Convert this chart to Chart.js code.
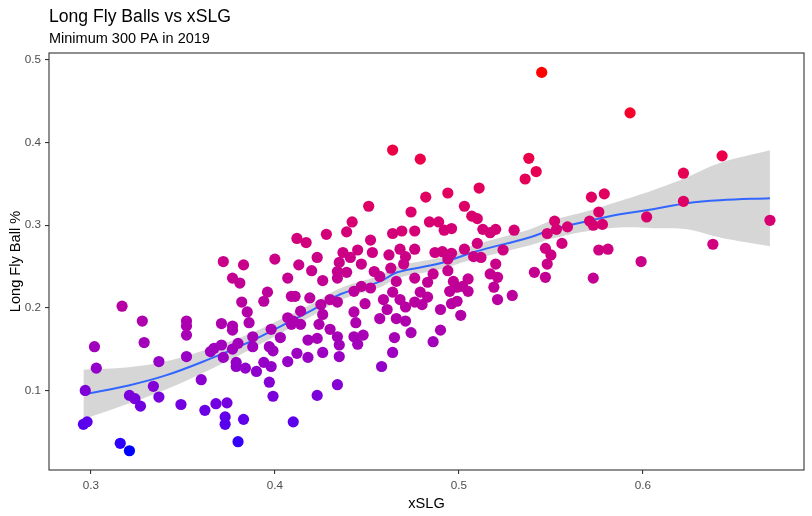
<!DOCTYPE html>
<html>
<head>
<meta charset="utf-8">
<script src="https://cdn.jsdelivr.net/npm/chart.js@4"></script>
<style>
  body { margin: 0; background: #fff; }
  #wrap { width: 812px; height: 516px; }
</style>
</head>
<body>
<div id="wrap"><canvas id="flyChart"></canvas></div>
<script>
// xSLG and Long Fly Ball % per hitter (min 300 PA, 2019)
let xslg = [
  0.296, 0.298, 0.297, 0.302, 0.303, 0.316, 0.321, 0.317, 0.321, 0.324, 0.327, 0.328, 0.329, 0.334, 0.337, 0.337,
  0.349, 0.352, 0.352, 0.352, 0.352, 0.360, 0.362, 0.365, 0.367, 0.368, 0.371, 0.371, 0.372, 0.372, 0.373, 0.373,
  0.374, 0.377, 0.377, 0.377, 0.377, 0.379, 0.379, 0.380, 0.380, 0.381, 0.382, 0.383, 0.383, 0.384, 0.385, 0.386,
  0.388, 0.388, 0.390, 0.394, 0.394, 0.396, 0.397, 0.398, 0.398, 0.397, 0.399, 0.399, 0.400, 0.403, 0.407, 0.407,
  0.407, 0.409, 0.409, 0.410, 0.410, 0.411, 0.412, 0.412, 0.413, 0.414, 0.414, 0.417, 0.418, 0.418, 0.419, 0.420,
  0.423, 0.423, 0.423, 0.424, 0.425, 0.426, 0.426, 0.426, 0.428, 0.430, 0.430, 0.434, 0.434, 0.434, 0.434, 0.434,
  0.435, 0.435, 0.435, 0.437, 0.439, 0.439, 0.441, 0.442, 0.443, 0.443, 0.443, 0.444, 0.445, 0.445, 0.447, 0.447,
  0.448, 0.449, 0.451, 0.452, 0.452, 0.453, 0.454, 0.457, 0.457, 0.458, 0.459, 0.461, 0.463, 0.462, 0.464, 0.464,
  0.464, 0.465, 0.464, 0.479, 0.482, 0.494, 0.503, 0.474, 0.507, 0.510, 0.511, 0.484, 0.489, 0.492, 0.496, 0.513,
  0.520, 0.530, 0.469, 0.476, 0.517, 0.536, 0.538, 0.468, 0.476, 0.471, 0.487, 0.491, 0.496, 0.494, 0.503, 0.510,
  0.508, 0.512, 0.524, 0.470, 0.466, 0.476, 0.486, 0.483, 0.494, 0.497, 0.505, 0.502, 0.505, 0.495, 0.499, 0.517,
  0.520, 0.521, 0.519, 0.521, 0.529, 0.479, 0.483, 0.468, 0.471, 0.476, 0.480, 0.490, 0.496, 0.499, 0.501, 0.471,
  0.466, 0.474, 0.490, 0.486, 0.545, 0.593, 0.542, 0.643, 0.622, 0.622, 0.572, 0.579, 0.576, 0.571, 0.573, 0.578,
  0.602, 0.669, 0.552, 0.553, 0.559, 0.548, 0.547, 0.550, 0.548, 0.556, 0.576, 0.581, 0.599, 0.638, 0.541, 0.547,
  0.573
];
let longFly = [
  0.059, 0.062, 0.100, 0.153, 0.127, 0.036, 0.027, 0.202, 0.094, 0.090, 0.081, 0.184, 0.158, 0.105, 0.092, 0.135,
  0.083, 0.184, 0.178, 0.167, 0.141, 0.113, 0.076, 0.147, 0.151, 0.084, 0.181, 0.155, 0.256, 0.140, 0.068, 0.059,
  0.085, 0.236, 0.178, 0.173, 0.150, 0.134, 0.129, 0.157, 0.038, 0.230, 0.207, 0.252, 0.065, 0.127, 0.195, 0.182,
  0.165, 0.153, 0.123, 0.208, 0.134, 0.219, 0.153, 0.174, 0.129, 0.110, 0.148, 0.093, 0.259, 0.164, 0.188, 0.135,
  0.236, 0.214, 0.180, 0.184, 0.062, 0.214, 0.284, 0.145, 0.252, 0.196, 0.180, 0.279, 0.161, 0.140, 0.212, 0.245,
  0.261, 0.163, 0.094, 0.180, 0.204, 0.233, 0.192, 0.146, 0.289, 0.210, 0.174, 0.244, 0.236, 0.207, 0.165, 0.107,
  0.255, 0.155, 0.141, 0.267, 0.292, 0.243, 0.261, 0.304, 0.220, 0.195, 0.165, 0.182, 0.156, 0.270, 0.253, 0.226,
  0.167, 0.205, 0.323, 0.282, 0.224, 0.267, 0.244, 0.238, 0.187, 0.129, 0.210, 0.198, 0.248, 0.264, 0.391, 0.290,
  0.219, 0.164, 0.146, 0.380, 0.334, 0.339, 0.323, 0.316, 0.311, 0.308, 0.345, 0.304, 0.304, 0.294, 0.296, 0.295,
  0.295, 0.294, 0.293, 0.293, 0.291, 0.356, 0.381, 0.271, 0.271, 0.262, 0.267, 0.268, 0.266, 0.259, 0.271, 0.278,
  0.262, 0.261, 0.270, 0.253, 0.232, 0.236, 0.241, 0.231, 0.245, 0.232, 0.235, 0.226, 0.220, 0.220, 0.225, 0.241,
  0.253, 0.237, 0.225, 0.210, 0.215, 0.219, 0.213, 0.210, 0.201, 0.207, 0.204, 0.198, 0.205, 0.208, 0.191, 0.184,
  0.187, 0.170, 0.173, 0.159, 0.485, 0.436, 0.365, 0.384, 0.363, 0.329, 0.334, 0.338, 0.316, 0.305, 0.300, 0.301,
  0.310, 0.306, 0.305, 0.295, 0.298, 0.290, 0.272, 0.264, 0.253, 0.278, 0.270, 0.271, 0.256, 0.277, 0.243, 0.237,
  0.236
];

// loess fit and its confidence band
let smoothX = [0.296, 0.3206, 0.3407, 0.3640, 0.3857, 0.4031, 0.4210, 0.4356, 0.4573, 0.4665,
               0.4899, 0.5078, 0.5387, 0.5512, 0.5696, 0.5875, 0.6054, 0.6239, 0.6418, 0.669];
let smoothY = [0.0952, 0.1061, 0.1182, 0.1376, 0.1582, 0.1776, 0.1982, 0.2164, 0.2321, 0.2430,
               0.2539, 0.2673, 0.2855, 0.2952, 0.3048, 0.3133, 0.3194, 0.3267, 0.3303, 0.3327];
let bandLow  = [0.0652, 0.0841, 0.1012, 0.1246, 0.1485, 0.1691, 0.1909, 0.2091, 0.2248, 0.2357,
                0.2466, 0.2588, 0.2758, 0.2842, 0.2928, 0.2973, 0.2964, 0.2952, 0.2853, 0.2747];
let bandHigh = [0.1252, 0.1281, 0.1352, 0.1506, 0.1679, 0.1861, 0.2055, 0.2237, 0.2394, 0.2503,
                0.2612, 0.2758, 0.2952, 0.3062, 0.3168, 0.3293, 0.3424, 0.3582, 0.3753, 0.3907];

let xTicks = [0.3, 0.4, 0.5, 0.6];
let yTicks = [0.1, 0.2, 0.3, 0.4, 0.5];

// blue -> red gradient interpolated in Lab, like ggplot's scale_colour_gradient
function toLin(c) { c /= 255; return c <= 0.04045 ? c / 12.92 : Math.pow((c + 0.055) / 1.055, 2.4); }
function toLab(rgb) {
  let r = toLin(rgb[0]), g = toLin(rgb[1]), b = toLin(rgb[2]);
  let X = (0.4124 * r + 0.3576 * g + 0.1805 * b) / 0.95047;
  let Y = 0.2126 * r + 0.7152 * g + 0.0722 * b;
  let Z = (0.0193 * r + 0.1192 * g + 0.9505 * b) / 1.08883;
  let f = t => t > 0.008856 ? Math.cbrt(t) : 7.787 * t + 16 / 116;
  return [116 * f(Y) - 16, 500 * (f(X) - f(Y)), 200 * (f(Y) - f(Z))];
}
function fromLab(lab) {
  let fy = (lab[0] + 16) / 116, fx = fy + lab[1] / 500, fz = fy - lab[2] / 200;
  let inv = t => t * t * t > 0.008856 ? t * t * t : (t - 16 / 116) / 7.787;
  let X = inv(fx) * 0.95047, Y = inv(fy), Z = inv(fz) * 1.08883;
  let lin = [
    3.2406 * X - 1.5372 * Y - 0.4986 * Z,
    -0.9689 * X + 1.8758 * Y + 0.0415 * Z,
    0.0557 * X - 0.2040 * Y + 1.0570 * Z
  ];
  let out = lin.map(c => {
    c = Math.min(1, Math.max(0, c));
    c = c <= 0.0031308 ? 12.92 * c : 1.055 * Math.pow(c, 1 / 2.4) - 0.055;
    return Math.round(c * 255);
  });
  return "rgb(" + out.join(",") + ")";
}
let labLow = toLab([0, 0, 255]);
let labHigh = toLab([255, 0, 0]);
let yMin = Math.min(...longFly), yMax = Math.max(...longFly);
function pointColor(v) {
  let t = (v - yMin) / (yMax - yMin);
  return fromLab(labLow.map((c, i) => c + (labHigh[i] - c) * t));
}

function pairs(xs, ys) { return xs.map((x, i) => ({ x: x, y: ys[i] })); }

// ggplot-like panel box and title/subtitle
const panelPlugin = {
  id: "panel",
  afterDraw(chart) {
    let ctx = chart.ctx, a = chart.chartArea;
    ctx.save();
    ctx.strokeStyle = "#333333";
    ctx.lineWidth = 1.1;
    ctx.strokeRect(a.left, a.top, a.right - a.left, a.bottom - a.top);
    ctx.fillStyle = "#000";
    ctx.textBaseline = "alphabetic";
    ctx.font = '17.6px "Liberation Sans", Arial, sans-serif';
    ctx.fillText("Long Fly Balls vs xSLG", a.left, 22);
    ctx.font = '14.5px "Liberation Sans", Arial, sans-serif';
    ctx.fillText("Minimum 300 PA in 2019", a.left, 43);
    ctx.restore();
  }
};

const tickFont = { family: '"Liberation Sans", Arial, sans-serif', size: 11.7 };
const titleFont = { family: '"Liberation Sans", Arial, sans-serif', size: 14.6 };

new Chart(document.getElementById("flyChart").getContext("2d"), {
  type: "scatter",
  data: {
    datasets: [
      {
        label: "players",
        data: pairs(xslg, longFly),
        pointRadius: 5.6,
        pointHoverRadius: 5.6,
        pointBorderWidth: 0,
        pointBackgroundColor: c => pointColor(c.raw.y),
        order: 0
      },
      {
        label: "loess",
        data: pairs(smoothX, smoothY),
        showLine: true,
        borderColor: "#3366FF",
        borderWidth: 2,
        pointRadius: 0,
        tension: 0.4,
        order: 1
      },
      {
        label: "ci high",
        data: pairs(smoothX, bandHigh),
        showLine: true,
        borderColor: "transparent",
        borderWidth: 0,
        pointRadius: 0,
        tension: 0.4,
        fill: "+1",
        backgroundColor: "rgba(153,153,153,0.4)",
        order: 2
      },
      {
        label: "ci low",
        data: pairs(smoothX, bandLow),
        showLine: true,
        borderColor: "transparent",
        borderWidth: 0,
        pointRadius: 0,
        tension: 0.4,
        order: 3
      }
    ]
  },
  options: {
    responsive: true,
    maintainAspectRatio: false,
    animation: false,
    layout: { padding: { top: 53, left: 0, right: 8, bottom: 0 } },
    plugins: {
      legend: { display: false },
      tooltip: { enabled: false }
    },
    scales: {
      x: {
        type: "linear",
        min: 0.2773,
        max: 0.6875,
        afterBuildTicks: s => { s.ticks = xTicks.map(v => ({ value: v })); },
        afterFit: s => { s.height = 46; },
        grid: { drawOnChartArea: false, drawTicks: true, tickLength: 4, color: "#333333", lineWidth: 1.1 },
        border: { display: false },
        ticks: { color: "#4D4D4D", font: tickFont, padding: 5, maxRotation: 0, callback: v => v.toFixed(1) },
        title: { display: true, text: "xSLG", color: "#000", font: titleFont, padding: { top: 0, bottom: 3 } }
      },
      y: {
        type: "linear",
        min: 0.0037,
        max: 0.5085,
        afterBuildTicks: s => { s.ticks = yTicks.map(v => ({ value: v })); },
        afterFit: s => { s.width = 49; },
        grid: { drawOnChartArea: false, drawTicks: true, tickLength: 4, color: "#333333", lineWidth: 1.1 },
        border: { display: false },
        ticks: { color: "#4D4D4D", font: tickFont, padding: 4, callback: v => v.toFixed(1) },
        title: { display: true, text: "Long Fly Ball %", color: "#000", font: titleFont, padding: { top: 7, bottom: 0 } }
      }
    }
  },
  plugins: [panelPlugin]
});
</script>
</body>
</html>
